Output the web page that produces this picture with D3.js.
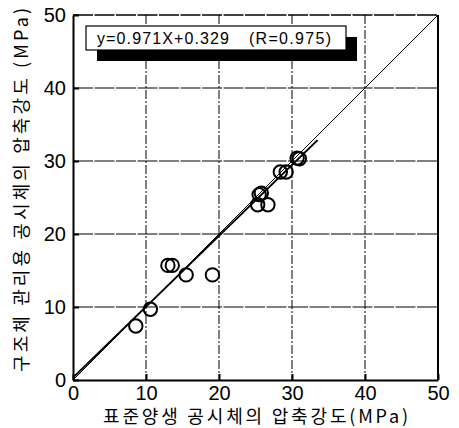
<!DOCTYPE html>
<meta charset="utf-8">
<script src="https://d3js.org/d3.v7.min.js"></script>
<style>
body { margin: 0; background: #fff; }
.tick text { font: 20px "Liberation Sans", sans-serif; fill: #000; }
.axisTitle { font: 18px "Noto Sans CJK KR", sans-serif; fill: #000; }
.eqText { font: 16px "Liberation Sans", sans-serif; fill: #000; }
</style>
<div id="chart"></div>
<script>
// measured points (standard cured vs structure-managed), MPa
const xVals = [8.6, 10.6, 13.0, 13.6, 15.5, 19.1, 25.3, 26.7, 25.5, 25.8, 28.4, 29.2, 30.7, 31.0];
const yVals = [7.4, 9.7, 15.7, 15.7, 14.4, 14.4, 24.0, 24.0, 25.4, 25.6, 28.5, 28.5, 30.4, 30.3];
const ticks = [0, 10, 20, 30, 40, 50];
const slope = 0.971, intercept = 0.329;
const fitRange = [0, 33.5];
const eqMain = "y=0.971X+0.329";
const eqR = "(R=0.975)";

const W = 459, H = 428;
const margin = {top: 15, right: 21, bottom: 48, left: 73};
const width = W - margin.left - margin.right,
      height = H - margin.top - margin.bottom;

const svg = d3.select("#chart").append("svg")
    .attr("width", W).attr("height", H);
const g = svg.append("g")
    .attr("transform", `translate(${margin.left},${margin.top})`);

const x = d3.scaleLinear().domain([0, 50]).range([0, width]);
const y = d3.scaleLinear().domain([0, 50]).range([height, 0]);

// grid
g.selectAll(".vgrid").data(ticks.slice(1, -1)).join("line")
    .attr("x1", d => x(d)).attr("x2", d => x(d))
    .attr("y1", 0).attr("y2", height)
    .attr("stroke", "#000").attr("stroke-width", 1)
    .attr("stroke-dasharray", "9,2,2,2");
g.selectAll(".hgrid").data(ticks.slice(1, -1)).join("line")
    .attr("x1", 0).attr("x2", width)
    .attr("y1", d => y(d)).attr("y2", d => y(d))
    .attr("stroke", "#000").attr("stroke-width", 1.2)
    .attr("stroke-dasharray", "20,1.5");

// axes
g.append("g").attr("transform", `translate(0,${height})`)
  .call(d3.axisBottom(x).tickValues(ticks).tickSizeInner(-6).tickSizeOuter(0).tickPadding(6))
  .call(a => a.select(".domain").attr("stroke-width", 2));
g.append("g")
  .call(d3.axisLeft(y).tickValues(ticks).tickSizeInner(-6).tickSizeOuter(0).tickPadding(7))
  .call(a => a.select(".domain").attr("stroke-width", 2));
g.append("line").attr("x1", width).attr("x2", width).attr("y1", 0).attr("y2", height)
  .attr("stroke", "#000").attr("stroke-width", 2);
g.append("line").attr("x1", 0).attr("x2", width).attr("y1", 0).attr("y2", 0)
  .attr("stroke", "#000").attr("stroke-width", 1.5).attr("stroke-dasharray", "20,1.5");
g.selectAll(".tick line").attr("stroke-width", 2);

// 1:1 line
g.append("line")
  .attr("x1", x(0)).attr("y1", y(0)).attr("x2", x(50)).attr("y2", y(50))
  .attr("stroke", "#000").attr("stroke-width", 1);

// regression
g.append("line")
  .attr("x1", x(fitRange[0])).attr("y1", y(slope * fitRange[0] + intercept))
  .attr("x2", x(fitRange[1])).attr("y2", y(slope * fitRange[1] + intercept))
  .attr("stroke", "#000").attr("stroke-width", 2);

// points
g.selectAll(".pt").data(xVals).join("circle")
  .attr("cx", d => x(d)).attr("cy", (d, i) => y(yVals[i]))
  .attr("r", 6.7)
  .attr("fill", "none").attr("stroke", "#000").attr("stroke-width", 2);

// equation box with shadow
svg.append("rect").attr("x", 97).attr("y", 37).attr("width", 260).attr("height", 24).attr("fill", "#000");
svg.append("rect").attr("x", 86).attr("y", 26).attr("width", 260).attr("height", 24)
  .attr("fill", "#fff").attr("stroke", "#000").attr("stroke-width", 1.2);
svg.append("text").attr("class", "eqText").attr("x", 97).attr("y", 44)
  .attr("textLength", 132).attr("lengthAdjust", "spacing").text(eqMain);
svg.append("text").attr("class", "eqText").attr("x", 249).attr("y", 44)
  .attr("textLength", 82).attr("lengthAdjust", "spacing").text(eqR);

// axis titles
svg.append("text").attr("class", "axisTitle")
  .attr("x", 103).attr("y", 423)
  .attr("textLength", 305).attr("lengthAdjust", "spacing")
  .text("표준양생 공시체의 압축강도(MPa)");
svg.append("text").attr("class", "axisTitle")
  .attr("transform", "translate(28,372) rotate(-90)")
  .attr("textLength", 364).attr("lengthAdjust", "spacing")
  .text("구조체 관리용 공시체의 압축강도 (MPa)");
</script>
